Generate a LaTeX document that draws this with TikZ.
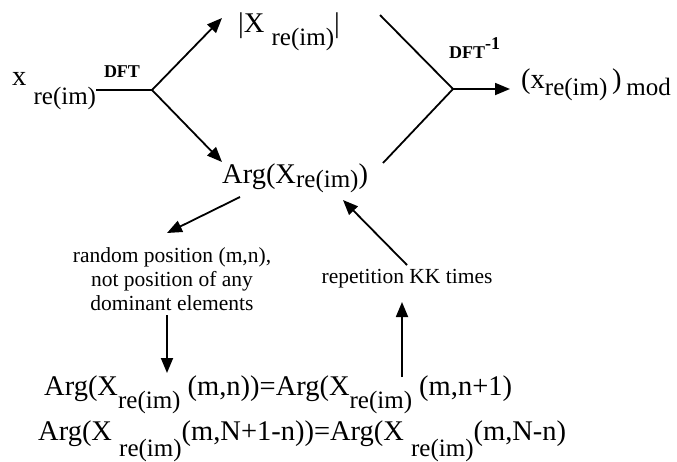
\documentclass[tikz,border=0pt]{standalone}
\usepackage{fontspec}
\setmainfont{Liberation Serif}
\usetikzlibrary{arrows.meta, positioning, calc}
\newcommand{\lowsub}[2][13pt]{\raisebox{-#1}{\fontsize{25}{25}\selectfont #2}}
\tikzset{
  big/.style={font=\fontsize{28.5}{32}\selectfont, inner sep=0pt, anchor=base west},
  note/.style={font=\fontsize{21.5}{24}\selectfont, align=center, inner sep=0pt},
  lab/.style={font=\fontsize{18}{20}\selectfont\bfseries, inner sep=0pt},
  arr/.style={-{Triangle[length=15pt, width=12pt]}, line width=1.8pt},
  ln/.style={line width=1.8pt}
}
\begin{document}
\begin{tikzpicture}[x=1pt, y=-1pt]
  \useasboundingbox (0,0) rectangle (677,461);
  % forward transform
  \node[big] (xin) at (12,85) {x \lowsub[19pt]{re(im)}};
  \coordinate (split) at (152,90);
  \node[lab] (dft) at (122,72) {DFT};
  \node[big] (mag) at (238,32) {|X \lowsub{re(im)}|};
  \node[big] (arg) at (222,183) {Arg(X\lowsub[4pt]{re(im)})};
  \coordinate (magtip) at (222,18);
  \coordinate (argtip) at (222,162);
  \draw[ln] (xin.east |- split) -- (split);
  \draw[arr] (split) -- (magtip);
  \draw[arr] (split) -- (argtip);
  % inverse transform
  \coordinate (join) at (453,89);
  \coordinate (magend) at (380,15);
  \coordinate (argend) at (383,163);
  \coordinate (outtip) at (510,89);
  \node[lab, anchor=base west] (idft) at (449,58) {DFT\raisebox{0.5em}{-1}};
  \node[big] (xout) at (521,88) {(x\lowsub[7pt]{re(im)}\,)\,\lowsub[7pt]{mod}};
  \draw[ln] (magend) -- (join);
  \draw[ln] (argend) -- (join);
  \draw[arr] (join) -- (outtip);
  % phase modification loop
  \node[note] (pos) at (172,279) {random position (m,n),\\ not position of any\\ dominant elements};
  \node[note] (rep) at (407,279) {repetition KK times};
  \node[big] (eq1) at (44,395) {Arg(X\lowsub{re(im)} (m,n))=Arg(X\lowsub{re(im)} (m,n+1)};
  \node[big] (eq2) at (38,440) {Arg(X \lowsub[16pt]{re(im)}(m,N+1-n))=Arg(X \lowsub[16pt]{re(im)}(m,N-n)};
  \coordinate (a1) at (240,197);
  \coordinate (a2) at (167,233);
  \coordinate (a3) at (167,315);
  \coordinate (a4) at (167,373);
  \coordinate (b1) at (402,377);
  \coordinate (b2) at (402,302);
  \coordinate (b3) at (407,265);
  \coordinate (b4) at (343,200);
  \draw[arr] (a1) -- (a2);
  \draw[arr] (a3) -- (a4);
  \draw[arr] (b1) -- (b2);
  \draw[arr] (b3) -- (b4);
\end{tikzpicture}
\end{document}
